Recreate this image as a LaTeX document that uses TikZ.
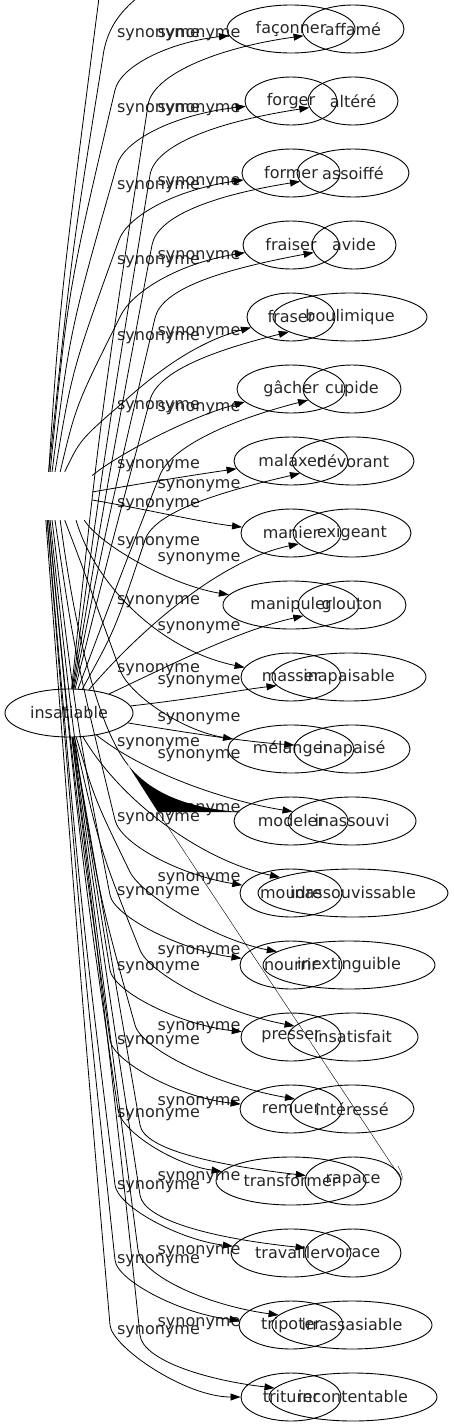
\documentclass[tikz,border=0pt]{standalone}
\usepackage{fontspec}
\setmainfont{DejaVu Sans}
\usetikzlibrary{shapes.geometric,arrows.meta,calc}
\tikzset{
  ell/.style={draw, ellipse, inner sep=0pt, minimum height=48pt, line width=0.9pt, text=black!85},
  syn/.style={line width=0.8pt, -{Triangle[length=10pt,width=7pt]}},
  plain/.style={line width=0.8pt},
  lab/.style={text=black!85, inner sep=0pt},
}
\newcommand{\bedge}[6]{\draw[syn] (#1) .. controls #3 .. #4 .. controls ($#4!-#5!#3$) and #6 .. (#2);}
\begin{document}
\begin{tikzpicture}[x=1pt, y=-1pt, font=\fontsize{16}{19}\selectfont]
\useasboundingbox (0,0) rectangle (453,1427);
\clip (0,0) rectangle (453,1427);

% sources
\node[ell, minimum width=128pt] (ins) at (69,713) {insatiable};
\node[minimum width=46pt, minimum height=48pt, inner sep=0pt] (sA) at (69,496) {};

% verbs
\node[ell, minimum width=128pt] (v0) at (291,29) {façonner};
\node[ell, minimum width=92pt] (v1) at (291,101) {forger};
\node[ell, minimum width=98pt] (v2) at (291,173) {former};
\node[ell, minimum width=96pt] (v3) at (291,245) {fraiser};
\node[ell, minimum width=88pt] (v4) at (291,317) {fraser};
\node[ell, minimum width=108pt] (v5) at (291,389) {gâcher};
\node[ell, minimum width=114pt] (v6) at (291,461) {malaxer};
\node[ell, minimum width=100pt] (v7) at (291,533) {manier};
\node[ell, minimum width=136pt] (v8) at (291,605) {manipuler};
\node[ell, minimum width=100pt] (v9) at (291,677) {masser};
\node[ell, minimum width=126pt] (v10) at (291,749) {mélanger};
\node[ell, minimum width=114pt] (v11) at (291,821) {modeler};
\node[ell, minimum width=102pt] (v12) at (291,893) {moudre};
\node[ell, minimum width=102pt] (v13) at (291,965) {nourrir};
\node[ell, minimum width=100pt] (v14) at (291,1037) {presser};
\node[ell, minimum width=102pt] (v15) at (291,1109) {remuer};
\node[ell, minimum width=150pt] (v16) at (291,1181) {transformer};
\node[ell, minimum width=120pt] (v17) at (291,1253) {travailler};
\node[ell, minimum width=104pt] (v18) at (291,1325) {tripoter};
\node[ell, minimum width=100pt] (v19) at (291,1397) {triturer};

% adjectives
\node[ell, minimum width=102pt] (a0) at (353,29) {affamé};
\node[ell, minimum width=90pt] (a1) at (353,101) {altéré};
\node[ell, minimum width=112pt] (a2) at (353,173) {assoiffé};
\node[ell, minimum width=84pt] (a3) at (354,245) {avide};
\node[ell, minimum width=154pt] (a4) at (350,317) {boulimique};
\node[ell, minimum width=98pt] (a5) at (352,389) {cupide};
\node[ell, minimum width=122pt] (a6) at (353,461) {dévorant};
\node[ell, minimum width=118pt] (a7) at (352,533) {exigeant};
\node[ell, minimum width=108pt] (a8) at (352,605) {glouton};
\node[ell, minimum width=154pt] (a9) at (349,677) {inapaisable};
\node[ell, minimum width=116pt] (a10) at (352,749) {inapaisé};
\node[ell, minimum width=128pt] (a11) at (352,821) {inassouvi};
\node[ell, minimum width=190pt] (a12) at (353,893) {inassouvissable};
\node[ell, minimum width=172pt] (a13) at (349,965) {inextinguible};
\node[ell, minimum width=130pt] (a14) at (353,1037) {insatisfait};
\node[ell, minimum width=124pt] (a15) at (352,1109) {intéressé};
\node[ell, minimum width=96pt] (a16) at (353,1181) {rapace};
\node[ell, minimum width=96pt] (a17) at (353,1253) {vorace};
\node[ell, minimum width=160pt] (a18) at (352,1325) {irrassasiable};
\node[ell, minimum width=168pt] (a19) at (353,1397) {incontentable};

% labels of the verb edges
\foreach \y [count=\k from 0] in {35,110,187,262,338,407,466,505,543,602,670,744,819,893,968,1042,1115,1187,1261,1332}
  \node[lab] (la\k) at (158.5,\y) {synonyme};
% labels of the adjective edges
\foreach \y [count=\k from 0] in {35,110,183,257,333,409,486,559,628,682,719,756,810,879,952,1028,1103,1178,1252,1324}
  \node[lab] (lb\k) at (199,\y) {synonyme};

% ---- verb edges (from sA)
\coordinate (top1) at (100,-10);
\coordinate (top2) at (150,-12);
\draw[plain] (sA.130) .. controls (60,300) .. (top1);
\draw[plain] (sA.130) .. controls (72,250) .. (104,50) .. controls (110,22) and (125,6) .. (top2);
\bedge{sA.128}{v0}{(68,290)}{(115,90)}{25pt}{(170,42)}
\bedge{sA.125}{v1}{(70,330)}{(117,165)}{25pt}{(172,115)}
\bedge{sA.120}{v2}{(72,370)}{(119,240)}{25pt}{(174,190)}
\bedge{sA.110}{v3}{(76,405)}{(121,315)}{25pt}{(176,264)}
\bedge{sA.100}{v4}{(80,440)}{(120,405)}{25pt}{(185,345)}
\draw[syn] (sA) .. controls (110,460) and (180,420) .. (v5);
\draw[syn] (sA) .. controls (150,482) and (200,474) .. (v6);
\draw[syn] (sA) .. controls (150,510) and (200,522) .. (v7);
\draw[syn] (sA) .. controls (100,545) and (170,585) .. (v8);
\draw[syn] (sA) .. controls (95,585) and (160,650) .. (v9);
\bedge{sA.260}{v10}{(80,560)}{(120,670)}{25pt}{(180,730)}
% broken verb edge to modeler
\coordinate (m1) at (128,765);
\coordinate (m2) at (240,812);
\coordinate (m3) at (158,812);
\coordinate (m4) at (402,1180);
\draw[plain] (sA.250) .. controls (76,640) and (100,730) .. (m1);
\fill (m1) .. controls (150,792) and (185,808) .. (m2) -- (m3) -- cycle;
\draw[line width=0.4pt] (m3) -- (m4) .. controls (403,1175) and (400,1170) .. (398,1166);
\bedge{sA.240}{v12}{(74,650)}{(115,820)}{25pt}{(180,875)}
\bedge{sA.235}{v13}{(76,720)}{(110,895)}{22pt}{(180,950)}
\bedge{sA.232}{v14}{(76,760)}{(110,970)}{22pt}{(180,1025)}
\bedge{sA.230}{v15}{(76,800)}{(110,1040)}{22pt}{(180,1098)}
\bedge{sA.230}{v16}{(80,850)}{(118,1110)}{22pt}{(175,1165)}
\bedge{sA.228}{v17}{(80,900)}{(115,1185)}{22pt}{(180,1240)}
\bedge{sA.228}{v18}{(82,950)}{(115,1260)}{22pt}{(185,1315)}
\bedge{sA.226}{v19}{(82,1000)}{(110,1325)}{22pt}{(185,1397)}

% ---- adjective edges (from insatiable)
\bedge{ins}{a0}{(100,420)}{(148,105)}{30pt}{(215,48)}
\bedge{ins}{a1}{(105,450)}{(150,175)}{30pt}{(215,122)}
\bedge{ins}{a2}{(108,480)}{(152,245)}{30pt}{(215,195)}
\bedge{ins}{a3}{(110,510)}{(155,318)}{30pt}{(220,270)}
\bedge{ins}{a4}{(110,550)}{(150,400)}{30pt}{(215,350)}
\bedge{ins}{a5}{(115,590)}{(160,475)}{30pt}{(230,420)}
\bedge{ins}{a6}{(115,630)}{(145,540)}{30pt}{(220,492)}
\draw[syn] (ins) .. controls (140,630) and (220,560) .. (a7);
\draw[syn] (ins) .. controls (170,665) and (240,630) .. (a8);
\draw[syn] (ins) .. controls (200,698) and (240,690) .. (a9);
\draw[syn] (ins) .. controls (200,735) and (250,742) .. (a10);
\draw[syn] (ins) .. controls (140,770) and (220,800) .. (a11);
\draw[syn] (ins) .. controls (120,800) and (200,860) .. (a12);
\bedge{ins}{a13}{(95,800)}{(130,872)}{25pt}{(215,940)}
\bedge{ins}{a14}{(100,850)}{(140,950)}{25pt}{(220,1012)}
\bedge{ins}{a15}{(100,900)}{(135,1025)}{25pt}{(215,1085)}
\bedge{ins}{a16}{(110,950)}{(140,1125)}{25pt}{(215,1165)}
\bedge{ins}{a17}{(110,1000)}{(140,1195)}{25pt}{(210,1238)}
\bedge{ins}{a18}{(112,1050)}{(138,1250)}{25pt}{(205,1305)}
\bedge{ins}{a19}{(115,1100)}{(140,1335)}{25pt}{(205,1380)}
\end{tikzpicture}
\end{document}
